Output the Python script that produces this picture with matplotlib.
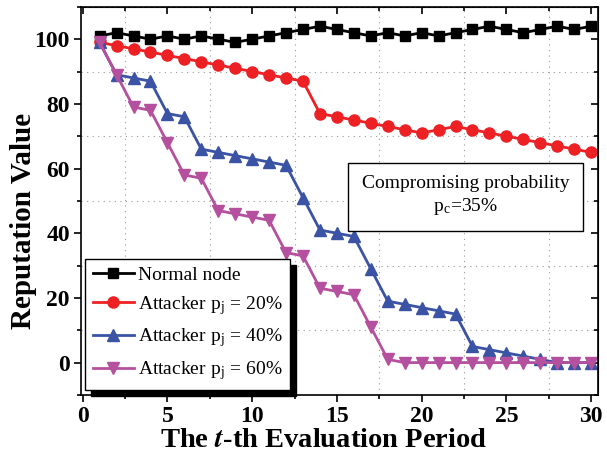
import matplotlib
matplotlib.use('Agg')
import matplotlib.pyplot as plt
from matplotlib.ticker import MultipleLocator

plt.rcParams['font.family'] = ['Liberation Serif', 'DejaVu Serif']
plt.rcParams['mathtext.fontset'] = 'stix'

periods = list(range(1, 31))
normal = [101, 102, 101, 100, 101, 100, 101, 100, 99, 100,
          101, 102, 103, 104, 103, 102, 101, 102, 101, 102,
          101, 102, 103, 104, 103, 102, 103, 104, 103, 104]
att20 = [99, 98, 97, 96, 95, 94, 93, 92, 91, 90,
         89, 88, 87, 77, 76, 75, 74, 73, 72, 71,
         72, 73, 72, 71, 70, 69, 68, 67, 66, 65]
att40 = [99, 89, 88, 87, 77, 76, 66, 65, 64, 63,
         62, 61, 51, 41, 40, 39, 29, 19, 18, 17,
         16, 15, 5, 4, 3, 2, 1, 0, 0, 0]
att60 = [99, 89, 79, 78, 68, 58, 57, 47, 46, 45,
         44, 34, 33, 23, 22, 21, 11, 1, 0, 0,
         0, 0, 0, 0, 0, 0, 0, 0, 0, 0]

labels = ['Normal node',
          r'Attacker p$_\mathregular{j}$ = 20%',
          r'Attacker p$_\mathregular{j}$ = 40%',
          r'Attacker p$_\mathregular{j}$ = 60%']

fig = plt.figure(figsize=(6.07, 4.55), dpi=100)
ax = fig.add_axes([0.1334, 0.132, 0.8516, 0.853])

ax.plot(periods, normal, color='black', marker='s', ms=6.5, lw=2, label=labels[0])
ax.plot(periods, att20, color='#ED2024', marker='o', ms=8, lw=2, label=labels[1])
ax.plot(periods, att40, color='#3A53A4', marker='^', ms=8, lw=2, label=labels[2])
ax.plot(periods, att60, color='#B5509E', marker='v', ms=8, lw=2, label=labels[3])

ax.set_xlim(-0.1, 30.4)
ax.set_ylim(-10, 110)
ax.xaxis.set_major_locator(MultipleLocator(5))
ax.xaxis.set_minor_locator(MultipleLocator(2.5))
ax.yaxis.set_major_locator(MultipleLocator(20))
ax.yaxis.set_minor_locator(MultipleLocator(10))
ax.grid(True, which='minor', linestyle=(0, (1, 4)), color='#999999', lw=0.8)

ax.tick_params(which='both', direction='out', width=1.2)
ax.tick_params(which='major', length=5, labelsize=17, pad=3)
ax.tick_params(which='minor', length=3)
for lab in ax.get_xticklabels() + ax.get_yticklabels():
    lab.set_fontweight('bold')

# mirrored inward ticks on top/right, like the original
top = ax.secondary_xaxis('top')
top.xaxis.set_major_locator(MultipleLocator(5))
top.xaxis.set_minor_locator(MultipleLocator(2.5))
top.tick_params(which='both', direction='in', labeltop=False, width=1.2)
top.tick_params(which='major', length=5)
top.tick_params(which='minor', length=3)
right = ax.secondary_yaxis('right')
right.yaxis.set_major_locator(MultipleLocator(20))
right.yaxis.set_minor_locator(MultipleLocator(10))
right.tick_params(which='both', direction='in', labelright=False, width=1.2)
right.tick_params(which='major', length=5)
right.tick_params(which='minor', length=3)
for s in ax.spines.values():
    s.set_linewidth(1.2)

ax.set_xlabel(r'The $\boldsymbol{t}$-th Evaluation Period', fontsize=20.5, fontweight='bold')
ax.set_ylabel('Reputation Value', fontsize=21, fontweight='bold')
ax.xaxis.set_label_coords(0.469, -0.085)
ax.yaxis.set_label_coords(-0.085, 0.448)

ax.text(22.6, 51.5, 'Compromising probability\n' + r'p$_\mathregular{c}$=35%',
        fontsize=14, ha='center', va='center', linespacing=1.3,
        bbox=dict(boxstyle='square,pad=0.7', fc='white', ec='black', lw=1))

leg = ax.legend(loc='lower left', bbox_to_anchor=(0.008, 0.013), borderaxespad=0,
                fontsize=14, frameon=True, fancybox=False, edgecolor='black',
                framealpha=1, labelspacing=0.5, handlelength=2.1, handletextpad=0.2,
                borderpad=0.4,
                shadow={'ox': 4.3, 'oy': -4.3, 'color': 'black', 'alpha': 1})
leg.get_frame().set_linewidth(1)

fig.savefig('out.png', dpi=100)
